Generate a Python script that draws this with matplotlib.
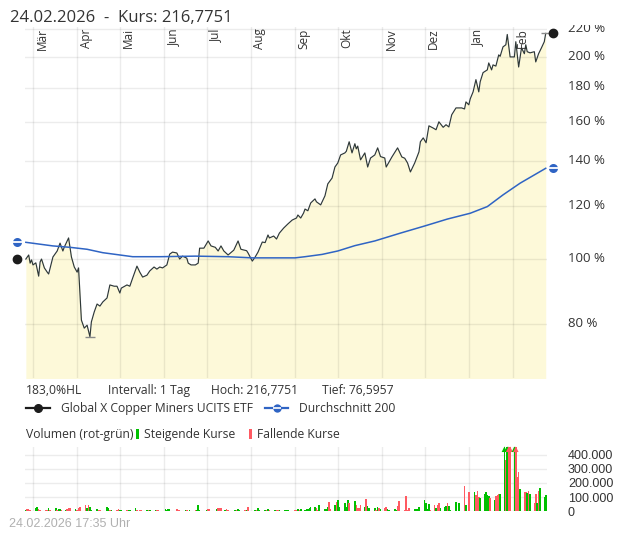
import numpy as np
import pandas as pd
import matplotlib
matplotlib.use("Agg")
import matplotlib.pyplot as plt
import matplotlib.dates as mdates
from matplotlib.lines import Line2D
from matplotlib.patches import Rectangle
from matplotlib.transforms import ScaledTranslation
from matplotlib.ticker import FixedLocator, FuncFormatter, NullLocator

plt.rcParams["font.family"] = ["Open Sans", "DejaVu Sans"]

##########################
#         DATEN          #
##########################
titel = "24.02.2026  -  Kurs: 216,7751"
info = ["183,0%HL", "Intervall: 1 Tag", "Hoch: 216,7751", "Tief: 76,5957"]
name_kurs = "Global X Copper Miners UCITS ETF"
name_gd = "Durchschnitt 200"
stand = "24.02.2026 17:35 Uhr"

monate = ["Mär", "Apr", "Mai", "Jun", "Jul", "Aug", "Sep", "Okt", "Nov", "Dez", "Jan", "Feb"]
monat_start = ["2025-03-01", "2025-04-01", "2025-05-01", "2025-06-01", "2025-07-01", "2025-08-01",
               "2025-09-01", "2025-10-01", "2025-11-01", "2025-12-01", "2026-01-01", "2026-02-01"]
prozent_ticks = [80, 100, 120, 140, 160, 180, 200, 220]
vol_ticks = [0, 100000, 200000, 300000, 400000]

# Kurs in % (Start = 100)
kurs_datum = [
    "2025-02-24", "2025-02-26", "2025-02-27", "2025-02-28", "2025-03-01", "2025-03-03", "2025-03-05",
    "2025-03-06", "2025-03-07", "2025-03-09", "2025-03-11", "2025-03-12", "2025-03-15", "2025-03-18",
    "2025-03-20", "2025-03-22", "2025-03-23", "2025-03-26", "2025-03-28", "2025-03-30", "2025-04-01",
    "2025-04-02", "2025-04-04", "2025-04-06", "2025-04-08", "2025-04-09", "2025-04-10", "2025-04-11",
    "2025-04-13", "2025-04-15", "2025-04-17", "2025-04-19", "2025-04-22", "2025-04-24", "2025-04-27",
    "2025-04-29", "2025-05-01", "2025-05-02", "2025-05-06", "2025-05-08", "2025-05-10", "2025-05-13",
    "2025-05-15", "2025-05-17", "2025-05-20", "2025-05-22", "2025-05-25", "2025-05-27", "2025-05-29",
    "2025-05-31", "2025-06-03", "2025-06-05", "2025-06-07", "2025-06-10", "2025-06-12", "2025-06-14",
    "2025-06-17", "2025-06-18", "2025-06-20", "2025-06-23", "2025-06-25", "2025-06-26", "2025-06-29",
    "2025-07-02", "2025-07-04", "2025-07-07", "2025-07-09", "2025-07-11", "2025-07-13", "2025-07-16",
    "2025-07-20", "2025-07-23", "2025-07-25", "2025-07-29", "2025-07-30", "2025-08-02", "2025-08-04",
    "2025-08-06", "2025-08-09", "2025-08-11", "2025-08-13", "2025-08-14", "2025-08-17", "2025-08-19",
    "2025-08-21", "2025-08-24", "2025-08-27", "2025-08-30", "2025-09-02", "2025-09-03", "2025-09-05",
    "2025-09-07", "2025-09-08", "2025-09-10", "2025-09-12", "2025-09-15", "2025-09-16", "2025-09-19",
    "2025-09-22", "2025-09-24", "2025-09-27", "2025-09-29", "2025-10-01", "2025-10-03", "2025-10-06",
    "2025-10-07", "2025-10-09", "2025-10-11", "2025-10-13", "2025-10-14", "2025-10-15", "2025-10-17",
    "2025-10-20", "2025-10-22", "2025-10-24", "2025-10-27", "2025-10-29", "2025-10-31", "2025-11-03",
    "2025-11-04", "2025-11-08", "2025-11-12", "2025-11-15", "2025-11-17", "2025-11-19", "2025-11-21",
    "2025-11-24", "2025-11-27", "2025-11-28", "2025-11-30", "2025-12-02", "2025-12-04", "2025-12-07",
    "2025-12-09", "2025-12-11", "2025-12-14", "2025-12-16", "2025-12-18", "2025-12-20", "2025-12-23",
    "2025-12-27", "2025-12-29", "2025-12-30", "2026-01-01", "2026-01-02", "2026-01-04", "2026-01-06",
    "2026-01-08", "2026-01-09", "2026-01-11", "2026-01-14", "2026-01-15", "2026-01-17", "2026-01-18",
    "2026-01-20", "2026-01-22", "2026-01-23", "2026-01-25", "2026-01-27", "2026-01-28", "2026-01-30",
    "2026-02-02", "2026-02-03", "2026-02-05", "2026-02-07", "2026-02-09", "2026-02-10", "2026-02-11",
    "2026-02-13", "2026-02-16", "2026-02-17", "2026-02-19", "2026-02-21", "2026-02-23", "2026-02-24",
]
kurs_wert = [
    100.0, 101.4, 98.6, 99.7, 98.0, 98.7, 94.3,
    99.0, 100.0, 97.0, 95.6, 95.0, 100.7, 102.8,
    105.6, 102.8, 104.2, 107.5, 100.7, 97.3, 95.6,
    97.0, 81.1, 78.9, 79.7, 78.1, 76.5957, 80.6,
    83.4, 85.7, 85.1, 86.3, 87.5, 91.5, 91.1,
    91.1, 89.0, 90.5, 91.5, 91.1, 93.7, 97.6,
    95.6, 94.0, 94.6, 96.0, 97.3, 96.6, 97.3,
    97.0, 98.0, 101.7, 102.4, 102.1, 100.0, 101.0,
    100.3, 98.6, 98.0, 98.0, 98.6, 103.8, 103.8,
    106.4, 104.6, 104.1, 102.8, 104.6, 102.8, 101.4,
    103.1, 106.4, 103.4, 102.9, 102.1, 99.3, 100.7,
    102.4, 106.0, 105.8, 108.6, 107.5, 108.2, 107.1,
    109.3, 111.2, 112.8, 114.3, 115.1, 116.3, 115.1,
    117.1, 118.7, 118.0, 121.2, 122.9, 121.7, 120.4,
    124.2, 129.4, 132.0, 137.1, 139.0, 142.9, 143.9,
    144.7, 149.5, 143.9, 148.5, 145.9, 147.3, 140.5,
    143.9, 137.1, 141.4, 142.9, 146.4, 142.1, 141.4,
    137.1, 141.9, 146.4, 141.9, 141.3, 139.0, 134.8,
    139.0, 144.4, 149.5, 151.5, 149.0, 157.9, 156.7,
    155.8, 160.1, 157.1, 158.5, 157.3, 164.0, 167.9,
    167.9, 167.3, 171.4, 169.7, 173.2, 177.4, 185.0,
    177.4, 183.7, 189.5, 191.3, 195.9, 191.3, 194.6,
    193.8, 201.4, 200.4, 207.0, 208.5, 216.0, 200.0,
    200.0, 210.7, 193.2, 206.3, 202.2, 208.5, 203.6,
    202.8, 203.6, 196.6, 202.2, 206.3, 210.7, 216.7751,
]

# Durchschnitt 200 in %
gd_datum = ["2025-02-24", "2025-03-15", "2025-03-27", "2025-04-08", "2025-04-19", "2025-05-01",
            "2025-05-10", "2025-05-29", "2025-06-23", "2025-07-16", "2025-08-02", "2025-09-01",
            "2025-09-08", "2025-09-20", "2025-10-01", "2025-10-13", "2025-10-27", "2025-11-14",
            "2025-12-01", "2025-12-17", "2026-01-02", "2026-01-14", "2026-01-25", "2026-02-06",
            "2026-02-24"]
gd_wert = [105.9, 104.6, 104.1, 103.4, 102.2, 101.4,
           100.8, 100.8, 101.0, 100.8, 100.4, 100.4,
           100.8, 101.6, 102.8, 104.7, 106.4, 109.3,
           112.0, 114.7, 117.0, 119.7, 124.6, 129.7,
           136.5]

# Volumen: Index des Handelstags, Stück in Tausend, g = steigend / r = fallend
vol_tag = [
    0, 1, 2, 3, 5, 6, 7, 8, 10, 11,
    12, 13, 15, 16, 17, 18, 19, 20, 21, 22,
    23, 25, 26, 27, 28, 30, 31, 32, 33, 34,
    36, 37, 38, 41, 42, 43, 44, 46, 47, 48,
    49, 51, 52, 53, 55, 56, 58, 59, 61, 62,
    63, 65, 66, 67, 70, 71, 72, 73, 76, 77,
    78, 80, 81, 83, 85, 86, 87, 88, 91, 92,
    93, 96, 97, 98, 99, 100, 101, 102, 105, 106,
    107, 108, 110, 111, 112, 115, 116, 117, 118, 120,
    121, 122, 123, 125, 126, 127, 128, 130, 131, 132,
    135, 136, 137, 138, 139, 140, 141, 142, 143, 144,
    145, 146, 147, 148, 150, 151, 152, 153, 154, 155,
    156, 157, 158, 160, 161, 162, 163, 165, 166, 167,
    168, 169, 170, 171, 172, 173, 175, 176, 177, 178,
    179, 180, 181, 182, 183, 185, 186, 187, 188, 190,
    191, 192, 193, 195, 196, 197, 198, 200, 201, 202,
    203, 204, 205, 206, 207, 208, 209, 210, 211, 212,
    213, 214, 216, 218, 220, 221, 223, 225, 226, 227,
    228, 229, 230, 231, 232, 233, 234, 235, 236, 237,
    238, 239, 240, 241, 242, 243, 244, 245, 246, 247,
    248, 249, 250, 251, 252, 253, 254, 255, 256, 257,
    258, 259, 260, 261,
]
vol_wert = [
    9, 16, 16, 12, 23, 30, 16, 9, 9, 9,
    23, 9, 21, 9, 16, 14, 9, 9, 14, 23,
    23, 14, 9, 21, 30, 44, 21, 42, 28, 9,
    16, 9, 9, 28, 21, 9, 9, 12, 16, 9,
    9, 9, 9, 9, 23, 12, 9, 9, 9, 9,
    9, 9, 9, 9, 16, 9, 14, 14, 14, 9,
    9, 9, 9, 9, 9, 9, 44, 9, 9, 14,
    14, 14, 21, 21, 21, 9, 14, 9, 9, 9,
    14, 9, 9, 9, 28, 9, 9, 21, 9, 9,
    9, 16, 9, 9, 9, 9, 9, 9, 9, 9,
    9, 9, 14, 9, 14, 9, 14, 19, 26, 30,
    30, 26, 9, 44, 16, 16, 33, 65, 14, 42,
    65, 79, 33, 61, 33, 79, 61, 72, 44, 21,
    21, 44, 33, 84, 37, 21, 21, 9, 33, 21,
    16, 21, 33, 14, 9, 16, 9, 37, 74, 9,
    107, 9, 21, 16, 16, 16, 33, 79, 61, 14,
    49, 9, 44, 21, 44, 61, 21, 33, 37, 61,
    37, 9, 65, 61, 178, 44, 136, 136, 114, 143,
    103, 91, 125, 136, 114, 107, 91, 79, 107, 114,
    121, 121, 520, 360, 560, 480, 500, 470, 520, 243,
    278, 154, 136, 136, 130, 145, 125, 56, 121, 56,
    140, 161, 103, 114,
]
vol_farbe = ("grrrggrrrr" "grgrggrgrr" "rgrrrrgrgg" "grrggrgrrg" "grgggrrrgr"
             "ggrrggggrr" "rgrgrggggr" "rgrrrgrrgr" "ggrgrgrggg" "rgrgrrgggg"
             "rrgrgggggg" "grrggggrrg" "rgggggrgrr" "rrgrgggrgr" "grrggggrrr"
             "rrrggggggg" "grrgrrgggr" "ggggrgrgrr" "rgggggrgrr" "rggrgrrgrr"
             "rgrrgrgrrg" "rggg")

##########################
#         LAYOUT         #
##########################
W, H = 625, 542
GELB = "#fdf9d9"
LINIE = "#2e3838"
BLAU = "#2f64c4"
GRUEN = "#00c000"
ROT = "#ff5a62"
TEXT = "#333333"
FS = 8.7

def fx(px):
    return px / W

def fy(py):
    return 1 - py / H

fig = plt.figure(figsize=(W / 100, H / 100), dpi=100)
ax = fig.add_axes([fx(25), fy(378), fx(547) - fx(25), fy(27) - fy(378)])
axv = fig.add_axes([fx(25), fy(511.3), fx(547) - fx(25), fy(447) - fy(511.3)])

start = pd.Timestamp("2025-02-24")
x0 = start - pd.Timedelta(days=0.6)
x1 = start + pd.Timedelta(days=365.9)
ms_dates = pd.to_datetime(monat_start)

# Kurschart
kd = pd.to_datetime(kurs_datum)
gd = pd.to_datetime(gd_datum)
ax.set_yscale("log")
ax.fill_between(kd, kurs_wert, 50, color=GELB, lw=0, zorder=1)
ax.plot(kd, kurs_wert, color=LINIE, lw=0.85, zorder=3)
ax.plot(gd, gd_wert, color=BLAU, lw=1.1, zorder=3)
ax.set_xlim(x0, x1)
ax.set_ylim(66.5, 221.6)

ax.yaxis.set_major_locator(FixedLocator(prozent_ticks))
ax.yaxis.set_minor_locator(NullLocator())
ax.yaxis.set_major_formatter(FuncFormatter(lambda v, p: f"{v:.0f} %"))
ax.yaxis.tick_right()
ax.tick_params(axis="y", length=0, pad=15, labelsize=9.5, labelcolor=TEXT)
hoch = ScaledTranslation(0, 2.2 / 100, fig.dpi_scale_trans)
for lab in ax.get_yticklabels():
    lab.set_transform(lab.get_transform() + hoch)
ax.set_xticks(ms_dates)
ax.tick_params(axis="x", length=0, labelbottom=False)
ax.grid(True, color="black", alpha=0.075, lw=1)
for s in ax.spines.values():
    s.set_visible(False)

for m, name in zip(ms_dates, monate):
    ax.text(mdates.date2num(m + pd.Timedelta(days=6.3)), 0.996, name,
            transform=ax.get_xaxis_transform(), rotation=90, ha="center", va="top",
            fontsize=8.5, color=TEXT, zorder=4)

# Hoch / Tief Markierung
i_lo = int(np.argmin(kurs_wert))
i_hi = int(np.argmax(kurs_wert))
for i in (i_lo, i_hi):
    ax.hlines(kurs_wert[i], kd[i] - pd.Timedelta(days=3.5), kd[i] + pd.Timedelta(days=3.5),
              color="#8a8a8a", lw=1, zorder=4, clip_on=False)

# Punkte am Rand
ty = ax.get_yaxis_transform()
for xa, yv in ((-0.0153, kurs_wert[0]), (1.0115, kurs_wert[-1])):
    ax.plot([xa], [yv], "o", color="#1c1c1c", ms=6, transform=ty, clip_on=False, zorder=5)
for xa, yv in ((-0.0153, gd_wert[0]), (1.0115, gd_wert[-1])):
    ax.plot([xa], [yv], "o", color=BLAU, ms=6.5, mew=0, transform=ty, clip_on=False, zorder=5)
    ax.plot([xa], [yv], "_", color="white", ms=6.5, mew=1.3, transform=ty, clip_on=False, zorder=6)

# Volumen
bt = pd.bdate_range("2025-02-24", "2026-02-24")
vd = bt[vol_tag]
vv = np.array(vol_wert) * 1000.0
farben = [GRUEN if c == "g" else ROT for c in vol_farbe]
vtop = 453000
axv.bar(vd, vv, width=1.1, color=farben, lw=0, zorder=3)
over = vv > vtop
axv.scatter(vd[over], np.full(over.sum(), vtop * 0.965), marker="^", s=16, lw=0,
            c=[f for f, o in zip(farben, over) if o], clip_on=False, zorder=4)
axv.set_xlim(x0, x1)
axv.set_ylim(0, vtop)
axv.set_yticks(vol_ticks)
axv.yaxis.set_major_formatter(FuncFormatter(lambda v, p: f"{int(v):,}".replace(",", ".")))
axv.yaxis.tick_right()
axv.tick_params(axis="y", length=0, pad=15, labelsize=9, labelcolor=TEXT)
for lab in axv.get_yticklabels():
    lab.set_family(["Liberation Sans", "DejaVu Sans"])
axv.set_xticks(ms_dates)
axv.tick_params(axis="x", length=0, labelbottom=False)
axv.grid(True, color="black", alpha=0.075, lw=1)
for s in axv.spines.values():
    s.set_visible(False)

# Texte
fig.add_artist(Rectangle((0, fy(25)), 1, 25 / H, transform=fig.transFigure,
                         color="white", lw=0, zorder=3))
fig.text(fx(10), fy(21.7), titel, fontsize=12, color=TEXT, va="baseline", zorder=4)

for xp, t in zip([26, 108, 211, 322], info):
    fig.text(fx(xp), fy(394.3), t, fontsize=FS, color=TEXT, va="baseline")

fig.add_artist(Line2D([fx(26), fx(50)], [fy(407.5)] * 2, color="#1c1c1c", lw=1.6,
                      transform=fig.transFigure))
fig.add_artist(Line2D([fx(37.5)], [fy(407.5)], marker="o", ms=5.5, color="#1c1c1c",
                      transform=fig.transFigure))
fig.text(fx(60.7), fy(411.7), name_kurs, fontsize=FS, color=TEXT, va="baseline")
fig.add_artist(Line2D([fx(265), fx(288)], [fy(407.5)] * 2, color=BLAU, lw=1.6,
                      transform=fig.transFigure))
fig.add_artist(Line2D([fx(276.7)], [fy(407.5)], marker="o", ms=6, mew=0, color=BLAU,
                      transform=fig.transFigure))
fig.add_artist(Line2D([fx(276.7)], [fy(407.5)], marker="_", ms=6, mew=1.2, color="white",
                      transform=fig.transFigure))
fig.text(fx(299.3), fy(411.7), name_gd, fontsize=FS, color=TEXT, va="baseline")

fig.text(fx(26), fy(437.7), "Volumen (rot-grün)", fontsize=FS, color=TEXT, va="baseline")
fig.add_artist(Rectangle((fx(136), fy(439)), 2.5 / W, 9.7 / H, transform=fig.transFigure,
                         color=GRUEN, lw=0))
fig.text(fx(144.3), fy(437.7), "Steigende Kurse", fontsize=FS, color=TEXT, va="baseline")
fig.add_artist(Rectangle((fx(249.3), fy(439)), 2.5 / W, 9.7 / H, transform=fig.transFigure,
                         color=ROT, lw=0))
fig.text(fx(257.3), fy(437.7), "Fallende Kurse", fontsize=FS, color=TEXT, va="baseline")

fig.text(fx(9), fy(527), stand, fontsize=9, color="#b0b0b0", va="baseline",
         family=["Liberation Sans", "DejaVu Sans"])

fig.savefig("out.png", dpi=100)
